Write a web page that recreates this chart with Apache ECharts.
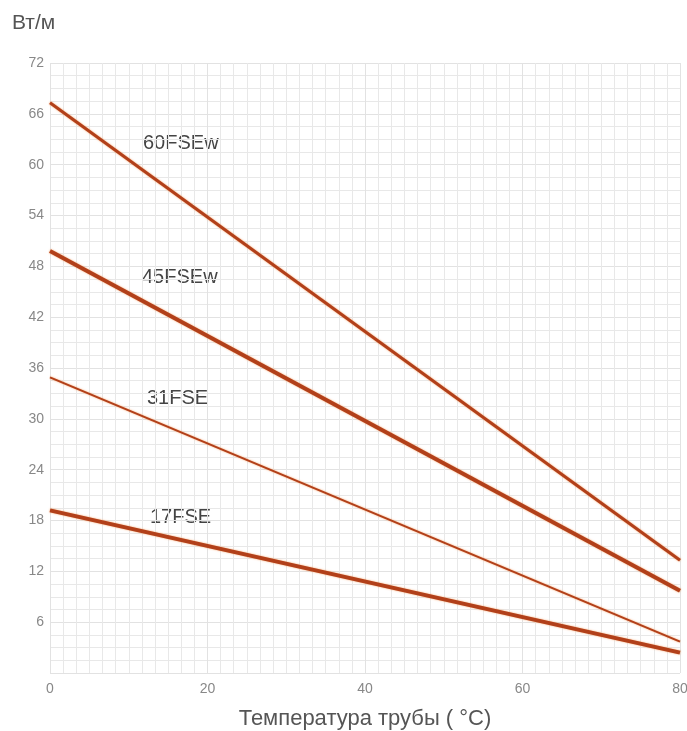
<!DOCTYPE html>
<html><head><meta charset="utf-8">
<script src="https://cdn.jsdelivr.net/npm/echarts@6/dist/echarts.min.js"></script>
<style>html,body{margin:0;padding:0;background:#fff}#c{width:687px;height:731px}</style>
</head><body><div id="c"></div>
<script>
const temps = [0, 80];
const s60 = [67.3, 13.3];
const s45 = [49.8, 9.7];
const s31 = [34.9, 3.7];
const s17 = [19.2, 2.4];
const names = ['60FSEw', '45FSEw', '31FSE', '17FSE'];
const yTicks = [6, 12, 18, 24, 30, 36, 42, 48, 54, 60, 66, 72];
const xTicks = [0, 20, 40, 60, 80];

const chart = echarts.init(document.getElementById('c'));
function mk(name, vals, w) {
  return {
    name, type: 'line', symbol: 'none', silent: true,
    data: temps.map((t, i) => [t, vals[i]]),
    lineStyle: { color: '#b2401a', width: w, shadowColor: 'rgba(245,130,50,0.7)', shadowBlur: 2 }
  };
}
const lab = (txt, x, y) => ({ type: 'text', x, y, style: { text: txt, fill: '#444', fontSize: 20, fontFamily: 'Liberation Sans', verticalAlign: 'middle' } });
chart.setOption({
  animation: false,
  grid: { left: 50, right: 7, top: 63, bottom: 58, containLabel: false, outerBoundsMode: 'none' },
  xAxis: {
    type: 'value', min: 0, max: 80, interval: 20,
    axisLine: { show: false }, axisTick: { show: false },
    axisLabel: { color: '#888', fontSize: 14, margin: 9, fontFamily: 'Liberation Sans' },
    splitLine: { lineStyle: { color: '#e2e2e2' } },
    minorTick: { show: false, splitNumber: 12 },
    minorSplitLine: { show: true, lineStyle: { color: '#e8e8e8' } },
    name: 'Температура трубы ( °C)', nameLocation: 'middle', nameGap: 35,
    nameTextStyle: { color: '#555', fontSize: 22, fontFamily: 'Liberation Sans' }
  },
  yAxis: {
    type: 'value', min: 0, max: 72, interval: 6,
    axisLine: { show: false }, axisTick: { show: false },
    axisLabel: { color: '#888', fontSize: 14, margin: 6, fontFamily: 'Liberation Sans',
      formatter: v => v === 0 ? '' : v },
    splitLine: { lineStyle: { color: '#e2e2e2' } },
    minorTick: { show: false, splitNumber: 4 },
    minorSplitLine: { show: true, lineStyle: { color: '#e8e8e8' } }
  },
  graphic: [
    { type: 'text', x: 12, y: 23, style: { text: 'Вт/м', fill: '#555', fontSize: 21, fontFamily: 'Liberation Sans', verticalAlign: 'middle' } },
    lab(names[0], 143, 143),
    lab(names[1], 142, 277),
    lab(names[2], 147, 398),
    lab(names[3], 150, 517)
  ],
  series: [mk(names[0], s60, 3), mk(names[1], s45, 4), mk(names[2], s31, 2), mk(names[3], s17, 4)]
});
</script></body></html>
